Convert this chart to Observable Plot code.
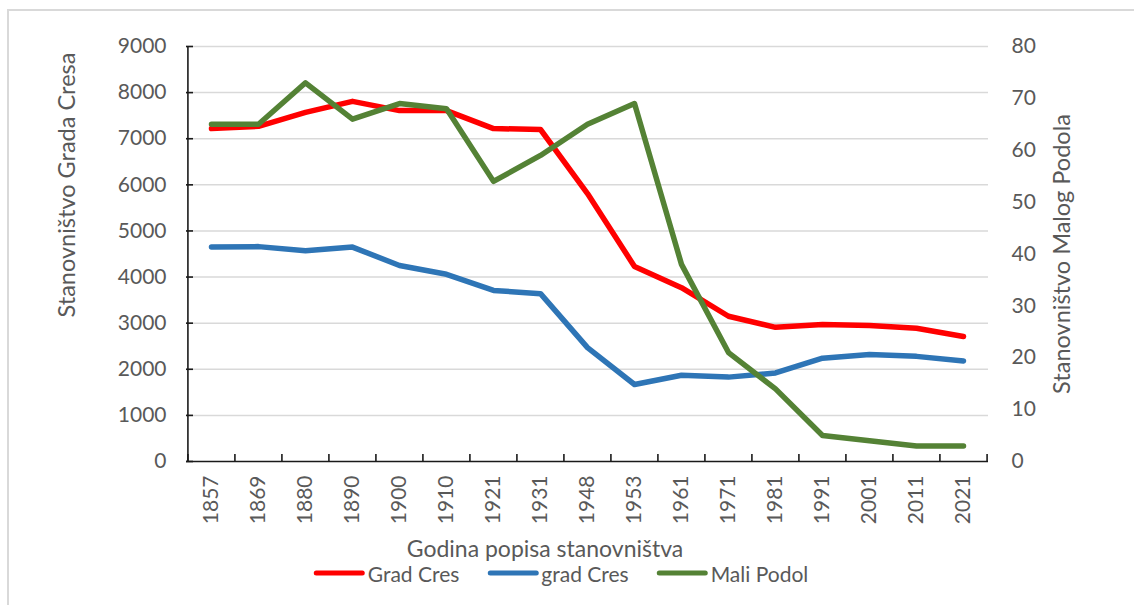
<!DOCTYPE html>
<html><head><meta charset="utf-8">
<script src="https://cdn.jsdelivr.net/npm/d3@7"></script>
<script src="https://cdn.jsdelivr.net/npm/@observablehq/plot@0.6"></script>
<style>
body{margin:0;background:#fff;}
#wrap{position:relative;width:1134px;height:605px;overflow:hidden;font-family:Lato,sans-serif;color:#595959;background:#fff;}
#border{position:absolute;left:7px;top:9px;width:1200px;height:700px;border-left:2px solid #d9d9d9;border-top:2px solid #d9d9d9;}
#chart{position:absolute;left:0;top:0;}
.rtitle{position:absolute;font-size:23.5px;white-space:nowrap;transform:translate(-50%,-50%) rotate(-90deg);}
#xtitle{position:absolute;left:545px;top:548px;transform:translate(-50%,-50%);font-size:23px;white-space:nowrap;}
#legend{position:absolute;left:561px;top:573px;transform:translate(-50%,-50%);display:flex;align-items:center;font-size:21px;white-space:nowrap;}
.item{display:flex;align-items:center;margin:0 14px;}
.sw{width:51px;height:5px;border-radius:3px;margin-right:3px;}
</style></head>
<body>
<div id="wrap">
  <div id="border"></div>
  <div id="chart"></div>
  <div class="rtitle" id="ytl" style="left:66px;top:185px;"></div>
  <div class="rtitle" id="ytr" style="left:1061px;top:254px;"></div>
  <div id="xtitle"></div>
  <div id="legend"></div>
</div>
<script>
const years = ["1857","1869","1880","1890","1900","1910","1921","1931","1948","1953","1961","1971","1981","1991","2001","2011","2021"];
const gradCresUpper = [7220,7270,7570,7810,7610,7610,7220,7200,5810,4230,3770,3150,2910,2970,2950,2890,2710];
const gradCresLower = [4650,4660,4570,4650,4250,4060,3710,3640,2470,1670,1870,1830,1920,2240,2320,2280,2180];
const maliPodol = [65,65,73,66,69,68,54,59,65,69,38,21,14,5,4,3,3];
const leftTicks = [0,1000,2000,3000,4000,5000,6000,7000,8000,9000];
const rightTicks = [0,10,20,30,40,50,60,70,80];
const seriesNames = ["Grad Cres","grad Cres","Mali Podol"];
const seriesColors = ["#ff0000","#2e75b6","#548235"];
const leftTitle = "Stanovništvo Grada Cresa";
const rightTitle = "Stanovništvo Malog Podola";
const xTitle = "Godina popisa stanovništva";

const leftMax = 9000, rightMax = 80, k = leftMax / rightMax;
const rows = years.map((y, i) => ({year: y, a: gradCresUpper[i], b: gradCresLower[i], c: maliPodol[i]}));

const W = 1134, H = 530, mL = 186, mR = 146, mT = 46, mB = 69;
const step = (W - mL - mR) / years.length;
const axisColor = "#1a1a1a";

const lineOpts = {strokeWidth: 5.5, strokeLinejoin: "round", strokeLinecap: "round"};

const chart = Plot.plot({
  width: W, height: H,
  marginLeft: mL, marginRight: mR, marginTop: mT, marginBottom: mB,
  style: {fontFamily: "Lato, sans-serif", fontSize: "21px", color: "#595959", background: "transparent", overflow: "visible"},
  x: {type: "point", domain: years, padding: 0.5},
  y: {domain: [0, leftMax]},
  marks: [
    Plot.ruleY(leftTicks.filter(d => d > 0), {stroke: "#d9d9d9", strokeWidth: 1.5}),
    Plot.ruleY([0], {stroke: axisColor, strokeWidth: 1.6}),
    Plot.ruleX([years[0]], {dx: -step / 2, y1: 0, y2: leftMax, stroke: axisColor, strokeWidth: 1.6}),
    Plot.ruleY(leftTicks, {stroke: axisColor, strokeWidth: 1.6, insetRight: (W - mL - mR) - 7}),
    Plot.ruleX(years, {dx: -step / 2, y1: 0, y2: 0, insetTop: -7, stroke: axisColor, strokeWidth: 1.6}),
    Plot.ruleX([years[years.length - 1]], {dx: step / 2, y1: 0, y2: 0, insetTop: -7, stroke: axisColor, strokeWidth: 1.6}),
    Plot.lineY(rows, {x: "year", y: "a", stroke: seriesColors[0], ...lineOpts}),
    Plot.lineY(rows, {x: "year", y: "b", stroke: seriesColors[1], ...lineOpts}),
    Plot.lineY(rows, {x: "year", y: d => d.c * k, stroke: seriesColors[2], ...lineOpts}),
    Plot.axisY({anchor: "left", ticks: leftTicks, tickSize: 0, tickPadding: 20, tickFormat: d => String(d), label: null}),
    Plot.axisY({anchor: "right", ticks: rightTicks.map(v => v * k), tickSize: 0, tickPadding: 23, tickFormat: d => String(Math.round(d / k)), label: null}),
    Plot.axisX({tickRotate: -90, tickSize: 0, tickPadding: 14, label: null})
  ]
});
document.getElementById("chart").appendChild(chart);
document.getElementById("ytl").textContent = leftTitle;
document.getElementById("ytr").textContent = rightTitle;
document.getElementById("xtitle").textContent = xTitle;
const leg = document.getElementById("legend");
seriesNames.forEach((n, i) => {
  const it = document.createElement("div"); it.className = "item";
  const sw = document.createElement("div"); sw.className = "sw"; sw.style.background = seriesColors[i];
  const t = document.createElement("span"); t.textContent = n;
  it.appendChild(sw); it.appendChild(t); leg.appendChild(it);
});
</script>
</body></html>
